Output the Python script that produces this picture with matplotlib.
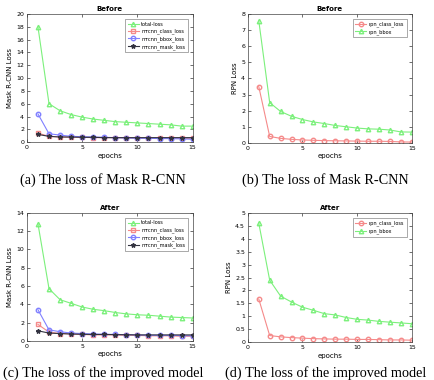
import numpy as np
import matplotlib
matplotlib.use("Agg")
import matplotlib.pyplot as plt

epochs = np.arange(1, 16)

# (a) Mask R-CNN losses, before
before_total = [18.0, 6.0, 4.9, 4.3, 3.9, 3.6, 3.4, 3.2, 3.1, 3.0, 2.9, 2.8, 2.7, 2.5, 2.5]
before_class = [1.4, 0.9, 0.8, 0.75, 0.75, 0.7, 0.7, 0.7, 0.65, 0.65, 0.65, 0.65, 0.65, 0.6, 0.6]
before_bbox = [4.4, 1.3, 1.1, 0.9, 0.85, 0.8, 0.75, 0.7, 0.65, 0.6, 0.6, 0.55, 0.55, 0.5, 0.45]
before_mask = [1.2, 0.9, 0.8, 0.8, 0.75, 0.75, 0.7, 0.7, 0.7, 0.7, 0.7, 0.7, 0.7, 0.7, 0.7]

# (b) RPN losses, before
before_rpn_class = [3.5, 0.4, 0.28, 0.22, 0.18, 0.16, 0.14, 0.13, 0.12, 0.11, 0.1, 0.1, 0.09, 0.06, 0.05]
before_rpn_bbox = [7.6, 2.5, 1.95, 1.65, 1.45, 1.3, 1.2, 1.08, 1.0, 0.92, 0.87, 0.85, 0.8, 0.68, 0.67]

# (c) Mask R-CNN losses, after
after_total = [12.8, 5.7, 4.5, 4.1, 3.7, 3.45, 3.3, 3.1, 2.95, 2.85, 2.8, 2.7, 2.6, 2.55, 2.5]
after_class = [1.8, 0.95, 0.8, 0.75, 0.7, 0.65, 0.65, 0.65, 0.6, 0.6, 0.55, 0.55, 0.55, 0.5, 0.5]
after_bbox = [3.4, 1.2, 1.0, 0.85, 0.8, 0.75, 0.72, 0.7, 0.68, 0.65, 0.62, 0.6, 0.6, 0.58, 0.55]
after_mask = [1.1, 0.85, 0.8, 0.75, 0.72, 0.7, 0.7, 0.68, 0.67, 0.65, 0.65, 0.65, 0.65, 0.65, 0.65]

# (d) RPN losses, after
after_rpn_class = [1.67, 0.25, 0.2, 0.17, 0.15, 0.13, 0.12, 0.11, 0.11, 0.1, 0.1, 0.09, 0.08, 0.08, 0.07]
after_rpn_bbox = [4.62, 2.4, 1.78, 1.55, 1.35, 1.23, 1.1, 1.05, 0.95, 0.88, 0.85, 0.8, 0.77, 0.74, 0.71]

mrcnn_labels = ["total-loss", "mrcnn_class_loss", "mrcnn_bbox_loss", "mrcnn_mask_loss"]
rpn_labels = ["rpn_class_loss", "rpn_bbox"]

GREEN = "#7cf07c"
RED = "#f58a8a"
BLUE = "#8080ff"
DARK = "#333340"

captions = ["(a) The loss of Mask R-CNN", "(b) The loss of Mask R-CNN",
            "(c) The loss of the improved model", "(d) The loss of the improved model"]


def style_axes(ax, title, ylabel, ymax, ystep):
    ax.set_xlim(0, 15)
    ax.set_ylim(0, ymax)
    ax.set_xticks([0, 5, 10, 15])
    ax.set_yticks(np.arange(0, ymax + ystep / 2, ystep))
    ax.yaxis.set_major_formatter(plt.FuncFormatter(lambda v, p: f"{v:g}"))
    ax.tick_params(direction="in", top=True, right=True, labelsize=4.5, length=2, width=0.4, pad=2)
    for s in ax.spines.values():
        s.set_linewidth(0.5)
        s.set_color("#444444")
    ax.set_title(title, fontsize=5, fontweight="bold", pad=2)
    ax.set_xlabel("epochs", fontsize=5, labelpad=2)
    ax.set_ylabel(ylabel, fontsize=5, labelpad=2)


def add_legend(ax):
    leg = ax.legend(loc="upper right", fontsize=3.6, frameon=True, fancybox=False,
                    handlelength=2.2, handletextpad=0.5, borderpad=0.5,
                    labelspacing=0.4, borderaxespad=1.0)
    leg.get_frame().set_linewidth(0.4)
    leg.get_frame().set_edgecolor("#444444")


def mrcnn_plot(ax, total, cls, bbox, mask, title, ymax, ystep):
    ms = 3.2
    ax.plot(epochs, total, color=GREEN, marker="^", ms=ms, mfc="none", lw=0.8, label=mrcnn_labels[0])
    ax.plot(epochs, cls, color=RED, marker="s", ms=ms, mfc="none", lw=0.8, label=mrcnn_labels[1])
    ax.plot(epochs, bbox, color=BLUE, marker="o", ms=ms, mfc="none", lw=0.8, label=mrcnn_labels[2])
    ax.plot(epochs, mask, color=DARK, marker="*", ms=ms, lw=0.8, label=mrcnn_labels[3])
    style_axes(ax, title, "Mask R-CNN Loss", ymax, ystep)
    add_legend(ax)


def rpn_plot(ax, cls, bbox, title, ymax, ystep):
    ms = 3.2
    ax.plot(epochs, cls, color=RED, marker="o", ms=ms, mfc="none", lw=0.8, label=rpn_labels[0])
    ax.plot(epochs, bbox, color=GREEN, marker="^", ms=ms, mfc="none", lw=0.8, label=rpn_labels[1])
    style_axes(ax, title, "RPN Loss", ymax, ystep)
    add_legend(ax)


fig = plt.figure(figsize=(4.34, 3.80), dpi=100)
ax_a = fig.add_axes([0.062, 0.626, 0.382, 0.337])
ax_b = fig.add_axes([0.571, 0.624, 0.378, 0.339])
ax_c = fig.add_axes([0.062, 0.103, 0.382, 0.337])
ax_d = fig.add_axes([0.571, 0.100, 0.378, 0.339])

mrcnn_plot(ax_a, before_total, before_class, before_bbox, before_mask, "Before", 20, 2)
rpn_plot(ax_b, before_rpn_class, before_rpn_bbox, "Before", 8, 1)
mrcnn_plot(ax_c, after_total, after_class, after_bbox, after_mask, "After", 14, 2)
rpn_plot(ax_d, after_rpn_class, after_rpn_bbox, "After", 5, 0.5)

cap_pos = [(0.237, 1 - 180 / 380), (0.75, 1 - 180 / 380),
           (0.237, 1 - 373 / 380), (0.75, 1 - 373 / 380)]
for (x, y), txt in zip(cap_pos, captions):
    fig.text(x, y, txt, ha="center", va="center", fontsize=10.3, family="Liberation Serif")

fig.savefig("out.png", dpi=100)
